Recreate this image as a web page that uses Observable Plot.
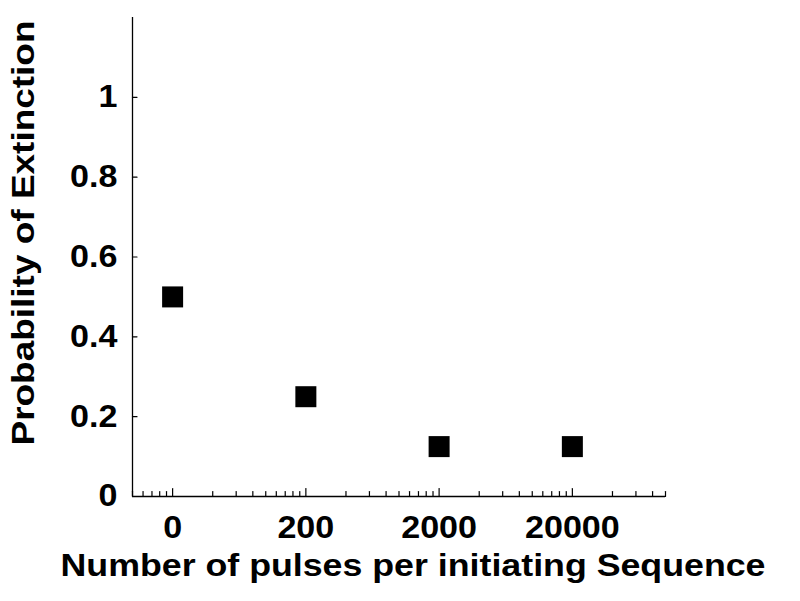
<!DOCTYPE html>
<html><head><meta charset="utf-8">
<script src="https://cdn.jsdelivr.net/npm/d3@7"></script>
<script src="https://cdn.jsdelivr.net/npm/@observablehq/plot@0.6"></script>
<style>body{margin:0;background:#fff} #chart{width:800px;height:601px}</style>
</head><body><div id="chart"></div>
<script>
// Data
const pulseLabels = ["0", "200", "2000", "20000"];
const pulsePositions = [20, 200, 2000, 20000]; // position on the log axis ("0" drawn one decade below 200)
const extinction = [0.5, 0.25, 0.125, 0.125];
const yTickValues = [0, 0.2, 0.4, 0.6, 0.8, 1];
const yTickLabels = ["0", "0.2", "0.4", "0.6", "0.8", "1"];
const xTitle = "Number of pulses per initiating Sequence";
const yTitle = "Probability of Extinction";

const points = pulsePositions.map((x, i) => ({x, y: extinction[i], label: pulseLabels[i]}));
const xDomain = [10, 100000], yDomain = [0, 1.2];

const minorTicks = [];
for (const b of [2, 20, 200, 2000, 20000])
  for (let k = 2; k <= 9; k++) {
    const v = b * k;
    if (v >= xDomain[0] && v <= xDomain[1] && !pulsePositions.includes(v)) minorTicks.push(v);
  }

const tickShape = {draw(ctx, l) { ctx.moveTo(0, 0); ctx.lineTo(0, -l); }};
const font = 31;

const chart = Plot.plot({
  width: 800, height: 601,
  marginLeft: 132, marginRight: 135, marginTop: 17, marginBottom: 105,
  x: {type: "log", domain: xDomain, axis: null},
  y: {domain: yDomain, axis: null},
  style: {fontFamily: "'Liberation Sans', Arial, sans-serif", background: "white", color: "black"},
  marks: [
    Plot.ruleY([0], {x1: xDomain[0], x2: xDomain[1], stroke: "black", strokeWidth: 1.3}),
    Plot.ruleX([xDomain[0]], {y1: yDomain[0], y2: yDomain[1], stroke: "black", strokeWidth: 1.3}),
    Plot.vector(minorTicks, {x: d => d, y: 0, length: 5, rotate: 0, anchor: "start", shape: tickShape, stroke: "black", strokeWidth: 1.2}),
    Plot.vector(pulsePositions, {x: d => d, y: 0, length: 8, rotate: 0, anchor: "start", shape: tickShape, stroke: "black", strokeWidth: 1.2}),
    Plot.vector(yTickValues, {x: xDomain[0], y: d => d, length: 4.5, rotate: 90, anchor: "start", shape: tickShape, stroke: "black", strokeWidth: 1.2}),
    Plot.text(points, {x: "x", y: 0, text: "label", dy: 32, lineAnchor: "middle", fontSize: font, fontWeight: "bold", fill: "black"}),
    Plot.text(yTickValues, {x: xDomain[0], y: d => d, text: (d, i) => yTickLabels[i], textAnchor: "end", lineAnchor: "middle", dx: -15, fontSize: font, fontWeight: "bold", fill: "black"}),
    Plot.dot(points, {x: "x", y: "y", symbol: "square", r: 11.85, fill: "black", stroke: "none"}),
    Plot.text([xTitle], {frameAnchor: "bottom", text: d => d, textAnchor: "middle", lineAnchor: "middle", dy: 70, dx: 14, fontSize: font, fontWeight: "bold", fill: "black"}),
    Plot.text([yTitle], {frameAnchor: "left", rotate: -90, text: d => d, textAnchor: "middle", lineAnchor: "middle", dx: -108, dy: -24, fontSize: font, fontWeight: "bold", fill: "black"})
  ]
});
document.getElementById("chart").appendChild(chart);

// Stretch glyphs to match the reference's wide lettering
chart.querySelectorAll("text").forEach(t => {
  const s = t.textContent;
  let target;
  if (s === xTitle) target = 705;
  else if (s === yTitle) target = 425;
  else target = t.getComputedTextLength() * 1.1;
  t.setAttribute("textLength", target);
  t.setAttribute("lengthAdjust", "spacingAndGlyphs");
});
</script>
</body></html>
